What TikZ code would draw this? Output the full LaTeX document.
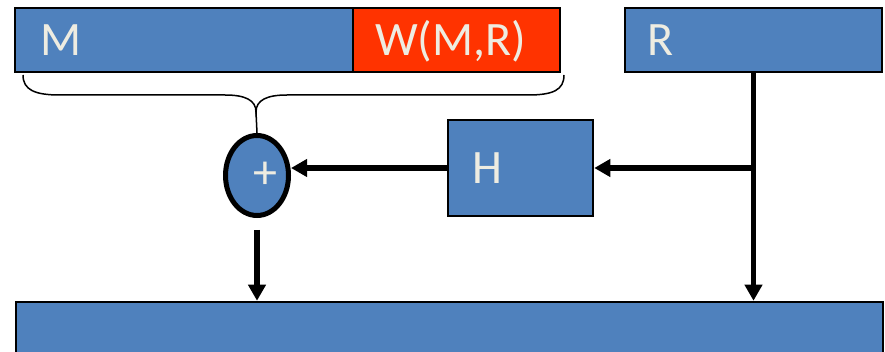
\documentclass[tikz,border=0pt]{standalone}
\usepackage{fontspec}
\setmainfont{Carlito}
\usetikzlibrary{arrows.meta,shapes.geometric}
\definecolor{boxblue}{HTML}{4F81BD}
\definecolor{boxred}{HTML}{FF3300}
\definecolor{boxtext}{HTML}{EEECE1}

\begin{document}
\begin{tikzpicture}[x=1pt,y=-1pt]
            \tikzstyle{every node} = [font=\fontsize{48}{56}\selectfont, text=boxtext]
            \tikzstyle{blk} = [draw=black, line width=2.5pt, fill=boxblue, rectangle, inner sep=0pt, text height=31pt, text depth=0pt, align=left]
            \tikzstyle{sum} = [draw=black, line width=5pt, fill=boxblue, ellipse, inner sep=0pt, minimum width=63pt, minimum height=80pt]
            \tikzstyle{flow} = [line width=5.5pt, -{Triangle[length=16pt,width=17pt]}]
            \useasboundingbox (0,0) rectangle (885,352);
            \clip (0,0) rectangle (885,352);
            % top row
            \node[blk, minimum width=338pt, minimum height=64pt, text width=288pt] (m) at (184,40) {M};
            \node[blk, fill=boxred, minimum width=207pt, minimum height=64pt, text width=163pt] (w) at (456.5,40) {W(M,R)};
            \node[blk, minimum width=257pt, minimum height=64pt, text width=213pt] (r) at (753.5,40) {R};
            % middle row
            \node[blk, minimum width=145pt, minimum height=96pt, text width=97pt] (h) at (520.5,168) {H};
            \node[sum] (sum) at (257,175.5) {\hspace*{16pt}+};
            % output block, runs off the bottom
            \node[blk, minimum width=867pt, minimum height=64pt] (out) at (449.5,334) {};
            % brace under M and W(M,R)
            \coordinate (tip) at (256,112);
            \draw[line width=1.5pt] (23,75) .. controls (23,90) and (35,95) .. (60,95) -- (225,95)
                .. controls (245,95) and (256,100) .. (tip)
                .. controls (256,100) and (267,95) .. (287,95) -- (528,95)
                .. controls (553,95) and (564,90) .. (564,75);
            \draw[line width=1.5pt] (tip) -- (sum.north);
            % arrows
            \coordinate (fork) at (r.south |- h.east);
            \coordinate (gap) at (257,230);
            \draw[flow] (r.south) -- (r.south |- out.north);
            \draw[flow] (fork) -- (h.east);
            \draw[flow] (h.west) -- (sum.east |- h.west);
            \draw[flow] (gap) -- (gap |- out.north);
\end{tikzpicture}
\end{document}
